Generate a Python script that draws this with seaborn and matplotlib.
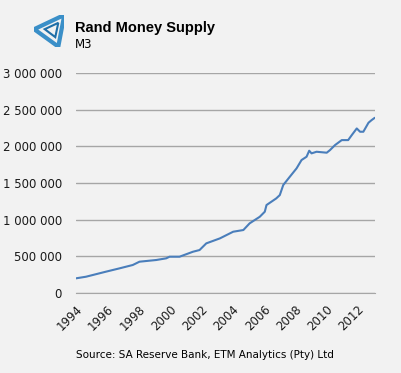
import numpy as np
import pandas as pd
import matplotlib
matplotlib.use("Agg")
import matplotlib.pyplot as plt
import matplotlib.ticker as mticker
from matplotlib.patches import Polygon
import seaborn as sns

# M3 money supply (R million)
years = [1994.0, 1994.64, 1995.92, 1996.78, 1997.63, 1998.06, 1999.13, 1999.77,
         1999.98, 2000.62, 2001.48, 2001.9, 2002.33, 2003.2, 2004.05, 2004.7,
         2005.1, 2005.75, 2006.07, 2006.18, 2006.8, 2007.03, 2007.25, 2007.67,
         2008.1, 2008.42, 2008.74, 2008.91, 2009.06, 2009.38, 2010.03, 2010.24,
         2010.56, 2010.99, 2011.4, 2011.63, 2011.95, 2012.16, 2012.37, 2012.7,
         2012.9, 2013.1]
m3 = [200000, 222000, 291000, 336000, 382000, 427000, 450000, 473000,
      495000, 495000, 563000, 586000, 677000, 745000, 836000, 859000,
      950000, 1040000, 1109000, 1200000, 1290000, 1336000, 1473000, 1586000,
      1700000, 1814000, 1859000, 1941000, 1905000, 1927000, 1914000, 1950000,
      2018000, 2086000, 2086000, 2154000, 2245000, 2200000, 2200000, 2323000,
      2359000, 2390000]
tick_years = list(range(1994, 2013, 2))
y_ticks = [0, 500000, 1000000, 1500000, 2000000, 2500000, 3000000]

df = pd.DataFrame({"year": years, "m3": m3})

sns.set_style("white")
plt.rcParams["font.family"] = ["DejaVu Sans"]
plt.rcParams["text.color"] = "black"
plt.rcParams["xtick.labelcolor"] = "#1a1a1a"
plt.rcParams["ytick.labelcolor"] = "#1a1a1a"

bg = "#f2f2f2"
fig = plt.figure(figsize=(4.02, 3.73), dpi=100, facecolor=bg)
ax = fig.add_axes([0.189, 0.2145, 0.744, 0.5895], facecolor=bg)

sns.lineplot(data=df, x="year", y="m3", ax=ax, color="#4a7ebb", linewidth=1.5)

ax.set_xlim(1994, 2013.12)
ax.set_ylim(0, 3000000)
ax.set_yticks(y_ticks)
ax.yaxis.set_major_formatter(mticker.FuncFormatter(lambda v, p: f"{int(v):,}".replace(",", " ")))
ax.set_xticks(tick_years)
ax.set_xticklabels([str(y) for y in tick_years], rotation=45, ha="right",
                   rotation_mode="anchor", fontsize=8.5)
ax.tick_params(axis="y", length=0, labelsize=8.5, pad=10)
ax.tick_params(axis="x", length=4, color="#a6a6a6", direction="out", pad=3)
ax.grid(axis="y", color="#a6a6a6", linewidth=1)
ax.set_axisbelow(True)
for s in ["top", "right", "left"]:
    ax.spines[s].set_visible(False)
ax.spines["bottom"].set_color("#a6a6a6")
ax.set_xlabel("")
ax.set_ylabel("")

# logo (simple impossible-triangle style mark)
logo = fig.add_axes([0.085, 0.875, 0.075, 0.085])
logo.set_xlim(0, 1)
logo.set_ylim(0, 1)
logo.axis("off")
logo.add_patch(Polygon([[0.0, 0.55], [1.0, 1.0], [0.8, 0.0]], closed=True,
                       fill=False, edgecolor="#3a8fc8", linewidth=3))
logo.add_patch(Polygon([[0.35, 0.55], [0.8, 0.75], [0.7, 0.3]], closed=True,
                       fill=False, edgecolor="#1f6fa8", linewidth=1.5))

fig.text(0.187, 0.925, "Rand Money Supply", fontsize=10.5, fontweight="bold",
         family="Liberation Sans", va="center", color="black")
fig.text(0.187, 0.88, "M3", fontsize=8.5, va="center", color="black")
fig.text(0.51, 0.048, "Source: SA Reserve Bank, ETM Analytics (Pty) Ltd",
         fontsize=7.5, ha="center", va="center", color="black")

fig.savefig("out.png", dpi=100, facecolor=bg)
